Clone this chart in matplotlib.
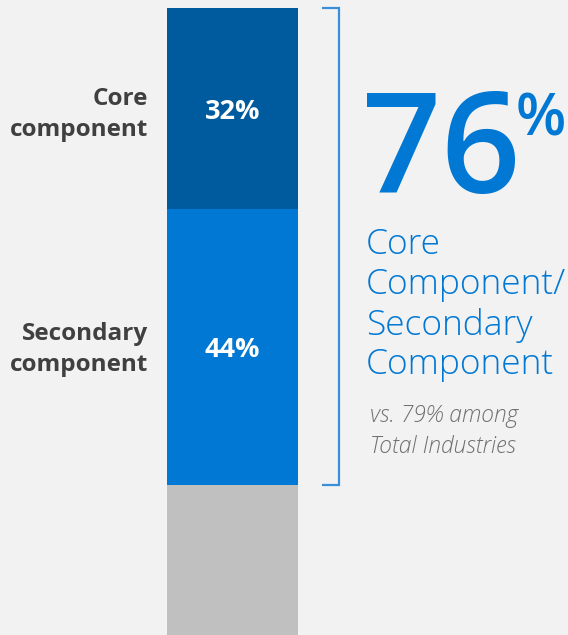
import matplotlib.pyplot as plt

# ---------------------------------------------------------
# data
# ---------------------------------------------------------
segments = ["Other", "Secondary component", "Core component"]
shares = [24, 44, 32]
colors = ["#c0c0c0", "#0078d4", "#005a9e"]
inside_labels = ["", "44%", "32%"]
side_labels = ["", "Secondary\ncomponent", "Core\ncomponent"]
side_shift = [0, -0.4, -1.0]   # small nudges (in % units)

headline = "76"
headline_text = "Core\nComponent/\nSecondary\nComponent"
compare_text = "vs. 79% among\nTotal Industries"

W, H = 568, 635
BG = "#f2f2f2"

plt.rcParams["font.family"] = ["Open Sans", "DejaVu Sans"]

fig = plt.figure(figsize=(W / 100, H / 100), dpi=100, facecolor=BG)
ax = fig.add_axes([0, 0, 1, 1])
ax.set_facecolor(BG)
ax.axis("off")

# 100% spans 628 px, top of bar 8 px below figure top
px_per_pct = 6.28
ax.set_xlim(0, W)
ax.set_ylim((636 - H) / px_per_pct, 636 / px_per_pct)

bar_x = 232.5
bar_w = 131

bottom = 0
for val, col, lab, side, dy in zip(shares, colors, inside_labels,
                                   side_labels, side_shift):
    ax.bar(bar_x, val, width=bar_w, bottom=bottom, color=col,
           edgecolor="none")
    mid = bottom + val / 2
    if lab:
        ax.text(bar_x, mid - 0.5, lab, ha="center", va="center",
                color="white", fontsize=19.5, fontweight="bold")
    if side:
        ax.text(148, mid + dy, side, ha="right", va="center",
                color="#404040", fontsize=17.5, fontweight="bold",
                linespacing=1.38)
    bottom += val

# bracket around the two component segments
lo = shares[0]
hi = sum(shares)
ax.plot([322, 338.5, 338.5, 322], [hi, hi, lo, lo], color="#3a8fd8",
        lw=1.6, solid_joinstyle="miter", solid_capstyle="butt")


def fx(x):
    return x / W


def fy(y):
    return 1 - y / H


fig.text(fx(362), fy(193), headline, ha="left", va="baseline",
         color="#0078d4", fontsize=100, fontweight="semibold")
fig.text(fx(516), fy(135), "%", ha="left", va="baseline",
         color="#0078d4", fontsize=42, fontweight="semibold")

fig.text(fx(366), fy(228), headline_text, ha="left", va="top",
         color="#0078d4", fontsize=25.5, fontweight="light",
         linespacing=1.2)

fig.text(fx(370), fy(404), compare_text, ha="left", va="top",
         color="#707070", fontsize=16.5, style="italic",
         fontweight="light", linespacing=1.38)

fig.savefig("out.png", dpi=100, facecolor=BG)
